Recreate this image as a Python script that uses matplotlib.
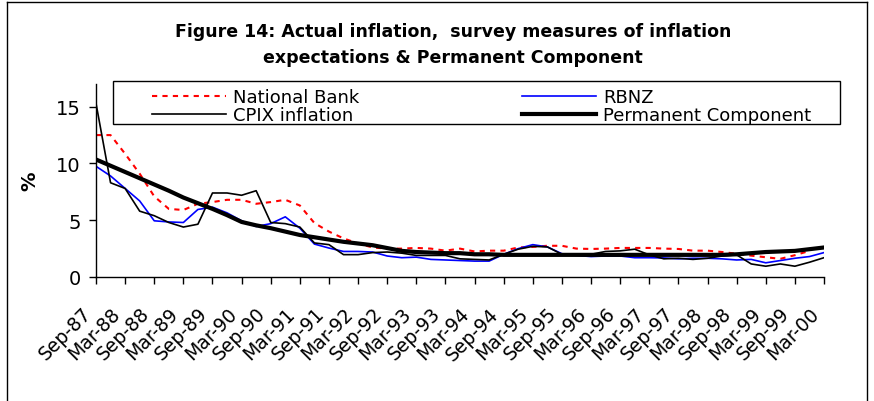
import numpy as np
import matplotlib
matplotlib.use('Agg')
import matplotlib.pyplot as plt
import matplotlib.transforms as mtrans
from matplotlib.patches import Rectangle
from matplotlib.lines import Line2D

W, H = 874, 402

# quarterly, Sep-87 .. Mar-00
labels = ['Sep-87', 'Mar-88', 'Sep-88', 'Mar-89', 'Sep-89', 'Mar-90', 'Sep-90',
          'Mar-91', 'Sep-91', 'Mar-92', 'Sep-92', 'Mar-93', 'Sep-93', 'Mar-94',
          'Sep-94', 'Mar-95', 'Sep-95', 'Mar-96', 'Sep-96', 'Mar-97', 'Sep-97',
          'Mar-98', 'Sep-98', 'Mar-99', 'Sep-99', 'Mar-00']

national_bank = [12.5, 12.5, 10.85, 9.1, 7.1, 6.0, 5.9, 6.45, 6.6, 6.8, 6.8, 6.45, 6.6,
                 6.8, 6.3, 4.75, 4.0, 3.4, 2.95, 2.6, 2.5, 2.5, 2.56, 2.5, 2.32, 2.5,
                 2.25, 2.32, 2.32, 2.6, 2.65, 2.75, 2.75, 2.5, 2.47, 2.5, 2.56, 2.56,
                 2.56, 2.5, 2.47, 2.32, 2.32, 2.2, 2.05, 1.88, 1.74, 1.6, 1.92, 2.3,
                 np.nan]
rbnz = [9.75, 8.9, 7.8, 6.7, 4.95, 4.85, 4.8, 5.95, 6.15, 5.65, 4.95, 4.45, 4.7, 5.3,
        4.3, 2.9, 2.55, 2.25, 2.25, 2.2, 1.85, 1.7, 1.75, 1.55, 1.5, 1.45, 1.4, 1.4,
        2.0, 2.5, 2.85, 2.65, 2.05, 1.9, 1.8, 1.85, 1.85, 1.7, 1.7, 1.68, 1.6, 1.65,
        1.65, 1.6, 1.5, 1.55, 1.25, 1.45, 1.65, 1.8, 2.15]
cpix = [15.3, 8.3, 7.8, 5.8, 5.4, 4.8, 4.4, 4.65, 7.4, 7.4, 7.2, 7.6, 4.8, 4.7, 4.4,
        3.0, 2.85, 1.97, 1.97, 2.15, 2.2, 2.1, 1.9, 1.9, 1.9, 1.6, 1.55, 1.5, 2.0,
        2.45, 2.7, 2.65, 2.0, 1.95, 2.0, 2.25, 2.3, 2.45, 1.95, 1.6, 1.65, 1.55, 1.65,
        1.85, 1.95, 1.15, 0.95, 1.15, 0.95, 1.3, 1.7]
permanent = [10.35, 9.8, 9.25, 8.7, 8.15, 7.6, 7.0, 6.5, 6.0, 5.45, 4.85, 4.55, 4.3,
             4.0, 3.7, 3.5, 3.3, 3.1, 2.95, 2.8, 2.55, 2.3, 2.2, 2.15, 2.1, 2.1, 2.0,
             2.0, 1.95, 1.95, 1.95, 1.95, 1.95, 1.95, 1.95, 1.95, 1.95, 1.95, 1.95,
             1.95, 1.95, 1.95, 1.95, 1.95, 2.0, 2.1, 2.2, 2.25, 2.3, 2.45, 2.6]

plt.rcParams['font.family'] = ['DejaVu Sans']

fig = plt.figure(figsize=(W / 100, H / 100), dpi=100)
ax = fig.add_axes([96 / W, 1 - 278 / H, (824 - 96) / W, (278 - 85) / H])

x = np.arange(len(cpix))
l_nb, = ax.plot(x, national_bank, color='#ff0000', lw=1.5, dashes=(2.5, 2.5))
l_rb, = ax.plot(x, rbnz, color='#0000ff', lw=1.2)
l_cp, = ax.plot(x, cpix, color='black', lw=1.2)
l_pc, = ax.plot(x, permanent, color='black', lw=3)

ax.set_xlim(0, len(cpix) - 1)
ax.set_ylim(0, 17)
ax.set_yticks([0, 5, 10, 15])
ax.set_xticks(np.arange(0, len(cpix), 2))
ax.set_xticklabels(labels, rotation=45, ha='right', va='center',
                   rotation_mode='anchor', fontsize=13.5)
ax.tick_params(axis='x', length=5, width=1, pad=19)
ax.tick_params(axis='y', length=5, width=1, labelsize=14, pad=6)
shift = mtrans.ScaledTranslation(-8 / 100, 0, fig.dpi_scale_trans)
for lab in ax.get_xticklabels():
    lab.set_transform(lab.get_transform() + shift)

for s in ['top', 'right']:
    ax.spines[s].set_visible(False)
for s in ['left', 'bottom']:
    ax.spines[s].set_linewidth(1)

ax.set_ylabel('%', fontsize=14, fontweight='bold', labelpad=12)

fig.text(453 / W, 1 - 32 / H, 'Figure 14: Actual inflation,  survey measures of inflation',
         ha='center', va='center', fontsize=12.5, fontweight='bold')
fig.text(453 / W, 1 - 58 / H, 'expectations & Permanent Component',
         ha='center', va='center', fontsize=12.5, fontweight='bold')

# legend box
fig.add_artist(Rectangle((113 / W, 1 - 125 / H), (840 - 113) / W, 43 / H,
                         transform=fig.transFigure, facecolor='white',
                         edgecolor='black', lw=1, zorder=5))
leg = fig.legend([l_nb, l_cp, l_rb, l_pc],
                 ['National Bank', 'CPIX inflation', 'RBNZ', 'Permanent Component'],
                 ncol=2, loc='upper left', bbox_to_anchor=(152 / W, 1 - 89 / H),
                 frameon=False, fontsize=13, handlelength=4.1, handletextpad=0.4,
                 labelspacing=0.0, columnspacing=9.0, borderpad=0, borderaxespad=0)
leg.set_zorder(6)

# outer frame
fig.add_artist(Line2D([7 / W, 7 / W], [0, 1 - 3 / H], transform=fig.transFigure,
                      color='black', lw=1))
fig.add_artist(Line2D([7 / W, 867 / W], [1 - 3 / H, 1 - 3 / H],
                      transform=fig.transFigure, color='black', lw=1))
fig.add_artist(Line2D([867 / W, 867 / W], [1 - 3 / H, 0], transform=fig.transFigure,
                      color='black', lw=1))

fig.savefig('out.png', dpi=100)
